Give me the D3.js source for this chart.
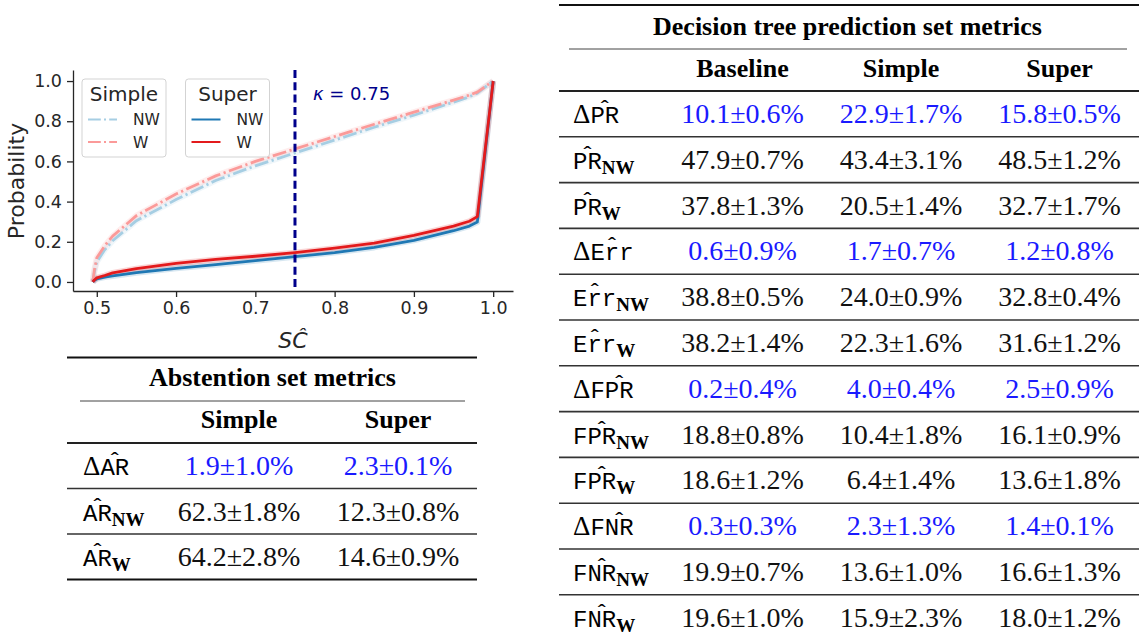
<!DOCTYPE html>
<html><head><meta charset="utf-8">
<script src="https://cdn.jsdelivr.net/npm/d3@7"></script>
<style>body{margin:0;background:#fff} svg{display:block}</style>
</head><body>
<svg id="c" width="1141" height="637"></svg>
<script>
// ---------------- data ----------------
const scX      = [0.495, 0.497, 0.500, 0.510, 0.520, 0.550, 0.600, 0.650, 0.700, 0.750, 0.800, 0.850, 0.900, 0.950, 0.970, 0.980, 1.000];
const simpleNW = [0.000, 0.050, 0.100, 0.160, 0.205, 0.305, 0.410, 0.505, 0.578, 0.642, 0.706, 0.770, 0.830, 0.895, 0.922, 0.940, 1.000];
const simpleW  = [0.000, 0.060, 0.120, 0.180, 0.228, 0.330, 0.438, 0.528, 0.600, 0.662, 0.724, 0.785, 0.845, 0.905, 0.930, 0.945, 1.000];
const superNW  = [0.000, 0.008, 0.015, 0.024, 0.030, 0.046, 0.068, 0.086, 0.106, 0.126, 0.146, 0.172, 0.207, 0.255, 0.278, 0.298, 1.000];
const superW   = [0.000, 0.010, 0.020, 0.032, 0.045, 0.066, 0.092, 0.112, 0.128, 0.146, 0.168, 0.193, 0.232, 0.278, 0.302, 0.325, 1.000];
const kappa = 0.75;
const xTicks = [0.5, 0.6, 0.7, 0.8, 0.9, 1.0];
const yTicks = [0.0, 0.2, 0.4, 0.6, 0.8, 1.0];
const groupNames = ["Simple", "Super"];
const seriesNames = ["NW", "W"];

const absTitle = "Abstention set metrics";
const absCols = ["Simple", "Super"];
const absMetric = ["AR", "AR", "AR"];
const absKind = ["Δ", "NW", "W"];
const absMean = [[1.9, 2.3], [62.3, 12.3], [64.2, 14.6]];
const absStd  = [[1.0, 0.1], [1.8, 0.8], [2.8, 0.9]];

const dtTitle = "Decision tree prediction set metrics";
const dtCols = ["Baseline", "Simple", "Super"];
const dtMetric = ["PR","PR","PR","Err","Err","Err","FPR","FPR","FPR","FNR","FNR","FNR"];
const dtKind = ["Δ","NW","W","Δ","NW","W","Δ","NW","W","Δ","NW","W"];
const dtMean = [[10.1,22.9,15.8],[47.9,43.4,48.5],[37.8,20.5,32.7],[0.6,1.7,1.2],[38.8,24.0,32.8],[38.2,22.3,31.6],[0.2,4.0,2.5],[18.8,10.4,16.1],[18.6,6.4,13.6],[0.3,2.3,1.4],[19.9,13.6,16.6],[19.6,15.9,18.0]];
const dtStd  = [[0.6,1.7,0.5],[0.7,3.1,1.2],[1.3,1.4,1.7],[0.9,0.7,0.8],[0.5,0.9,0.4],[1.4,1.6,1.2],[0.4,0.4,0.9],[0.8,1.8,0.9],[1.2,1.4,1.8],[0.3,1.3,0.1],[0.7,1.0,1.3],[1.0,2.3,1.2]];
// which characters of each metric name carry the hat
const hatSpan = {PR:[0,2], Err:[0,3], FPR:[1,3], FNR:[1,3], AR:[0,2]};

// ---------------- chart ----------------
const svg = d3.select("#c");
const ink = "#262626";
const x = d3.scaleLinear([0.47, 1.025], [73, 513]);
const y = d3.scaleLinear([-0.045, 1.055], [291, 70]);
const col = {simpleNW:"#a6cee3", simpleW:"#fb9a99", superNW:"#1f78b4", superW:"#e31a1c"};
const dashDot = "14,3.5,2.2,3.5";

const chart = svg.append("g");
const gx = chart.append("g").attr("transform","translate(0,291)")
  .call(d3.axisBottom(x).tickValues(xTicks).tickFormat(d3.format(".1f")).tickSize(6).tickSizeOuter(0).tickPadding(5));
const gy = chart.append("g").attr("transform","translate(73,0)")
  .call(d3.axisLeft(y).tickValues(yTicks).tickFormat(d3.format(".1f")).tickSize(6).tickSizeOuter(0).tickPadding(5));
[gx, gy].forEach(g => {
  g.selectAll("path,line").attr("stroke", ink).attr("stroke-width", 1.3);
  g.selectAll("text").attr("fill", ink).style("font-family","DejaVu Sans").style("font-size","17.5px");
});

const line = d3.line().x((d,i)=>x(scX[i])).y(d=>y(d));
const series = [
  {v: simpleNW, c: col.simpleNW, dash: dashDot},
  {v: simpleW,  c: col.simpleW,  dash: dashDot},
  {v: superNW,  c: col.superNW,  dash: null},
  {v: superW,   c: col.superW,   dash: null}
];
series.forEach(s => {
  chart.append("path").attr("d", line(s.v)).attr("fill","none")
    .attr("stroke", s.c).attr("stroke-opacity", 0.18).attr("stroke-width", 6).attr("stroke-linejoin","round");
});
series.forEach(s => {
  chart.append("path").attr("d", line(s.v)).attr("fill","none")
    .attr("stroke", s.c).attr("stroke-width", 2.8).attr("stroke-linejoin","round")
    .attr("stroke-dasharray", s.dash);
});

// kappa line
chart.append("line").attr("x1", x(kappa)).attr("x2", x(kappa)).attr("y1", 70).attr("y2", 291)
  .attr("stroke", "#00008b").attr("stroke-width", 3).attr("stroke-dasharray", "8,4.3");
const kt = chart.append("text").attr("x", x(kappa) + 18).attr("y", 99.5).attr("fill", "#00008b")
  .style("font-family","DejaVu Sans").style("font-size","18px");
kt.append("tspan").style("font-style","italic").text("κ");
kt.append("tspan").text(" = " + kappa.toFixed(2));

// axis labels
chart.append("text").attr("transform","translate(24,181) rotate(-90)").attr("text-anchor","middle")
  .attr("fill", ink).style("font-family","DejaVu Sans").style("font-size","22px").text("Probability");
chart.append("text").attr("x", 293).attr("y", 348).attr("text-anchor","middle")
  .attr("fill", ink).style("font-family","DejaVu Sans").style("font-style","italic").style("font-size","22px").text("SĈ");

// legends
const legendCols = [[col.simpleNW, col.simpleW], [col.superNW, col.superW]];
groupNames.forEach((gname, gi) => {
  const bx = gi === 0 ? 82 : 185.5;
  const lg = chart.append("g").attr("transform", `translate(${bx},79)`);
  lg.append("rect").attr("width", 84).attr("height", 78).attr("rx", 3)
    .attr("fill","#fff").attr("fill-opacity",0.8).attr("stroke","#d3d3d3").attr("stroke-width",1);
  lg.append("text").attr("x", 42).attr("y", 21.5).attr("text-anchor","middle").attr("fill", ink)
    .style("font-family","DejaVu Sans").style("font-size","20px").text(gname);
  seriesNames.forEach((sn, si) => {
    const yy = 40.5 + si * 22.5;
    lg.append("line").attr("x1", 6).attr("x2", 35).attr("y1", yy).attr("y2", yy)
      .attr("stroke", legendCols[gi][si]).attr("stroke-width", 2)
      .attr("stroke-dasharray", gi === 0 ? "12.8,3.2,2,3.2" : null);
    lg.append("text").attr("x", 51).attr("y", yy + 5.5).attr("fill", ink)
      .style("font-family","DejaVu Sans").style("font-size","15.5px").text(sn);
  });
});

// ---------------- tables ----------------
function rule(x1, x2, yy, w, c) {
  svg.append("line").attr("x1", x1).attr("x2", x2).attr("y1", yy).attr("y2", yy)
    .attr("stroke", c || "#222").attr("stroke-width", w);
}
function boldText(tx, ty, s) {
  svg.append("text").attr("x", tx).attr("y", ty).attr("text-anchor","middle").attr("fill","#000")
    .style("font-family","Liberation Serif").style("font-weight","bold").style("font-size","26px").text(s);
}
function rowLabel(lx, ly, metric, kind) {
  const t = svg.append("text").attr("x", lx).attr("y", ly).attr("fill","#000");
  let off = 0;
  if (kind === "Δ") {
    t.append("tspan").style("font-family","Liberation Serif").style("font-size","27px").text("Δ");
    off = 1;
  }
  const mt = t.append("tspan").style("font-family","Liberation Mono").style("font-size","24px").text(metric);
  const node = t.node();
  const hs = hatSpan[metric];
  const x1 = node.getStartPositionOfChar(off + hs[0]).x;
  const x2 = node.getEndPositionOfChar(off + hs[1] - 1).x;
  const x0 = node.getStartPositionOfChar(off).x;
  const endX = node.getEndPositionOfChar(off + metric.length - 1).x;
  const cw = (endX - x0) / metric.length;
  const hc = (x1 + x2) / 2;
  // the hat accent is the last glyph of the same run, moved back over its letters
  const dxs = Array.from(metric, () => 0).concat([hc - cw / 2 - endX]);
  const dys = Array.from(metric, () => 0).concat([-6]);
  mt.text(metric + "ˆ").attr("dx", dxs.join(" ")).attr("dy", dys.join(" "));
  if (kind !== "Δ") {
    t.append("tspan").attr("dx", endX - (hc + cw / 2)).attr("dy", 11)
      .style("font-family","Liberation Serif").style("font-weight","bold").style("font-size","19px").text(kind);
  }
}
function valueText(vx, vy, m, s, blue) {
  svg.append("text").attr("x", vx).attr("y", vy).attr("text-anchor","middle").attr("fill", blue ? "#1a1aff" : "#111")
    .style("font-family","Liberation Serif").style("font-size","28px")
    .text(m.toFixed(1) + "±" + s.toFixed(1) + "%");
}

// Abstention table
{
  const L = 67, R = 477, colX = [239, 398], hdrRule = 443, rowH = 45.5;
  rule(L, R, 357.5, 2.2, "#111");
  boldText(272.5, 386, absTitle);
  rule(80, 465, 401, 1, "#444");
  absCols.forEach((c, i) => boldText(colX[i], 428, c));
  rule(L, R, hdrRule, 1.8, "#222");
  absMetric.forEach((m, r) => {
    const base = hdrRule + rowH * r + 32;
    rowLabel(83, base, m, absKind[r]);
    absCols.forEach((c, j) => valueText(colX[j], base, absMean[r][j], absStd[r][j], absKind[r] === "Δ"));
    rule(L, R, hdrRule + rowH * (r + 1), r === absMetric.length - 1 ? 2.2 : 1.6, r === absMetric.length - 1 ? "#111" : "#333");
  });
}

// Decision tree table
{
  const L = 559, R = 1139, colX = [742.5, 901, 1059.5], hdrRule = 91, rowH = 45.8;
  rule(L, R, 5, 2.2, "#111");
  boldText(847.5, 35, dtTitle);
  rule(569, 1127, 49, 1, "#444");
  dtCols.forEach((c, i) => boldText(colX[i], 77, c));
  rule(L, R, hdrRule, 1.8, "#222");
  dtMetric.forEach((m, r) => {
    const base = hdrRule + rowH * r + 32;
    rowLabel(573, base, m, dtKind[r]);
    dtCols.forEach((c, j) => valueText(colX[j], base, dtMean[r][j], dtStd[r][j], dtKind[r] === "Δ"));
    rule(L, R, hdrRule + rowH * (r + 1), r === dtMetric.length - 1 ? 2.2 : 1.6, r === dtMetric.length - 1 ? "#111" : "#333");
  });
}
</script>
</body></html>
